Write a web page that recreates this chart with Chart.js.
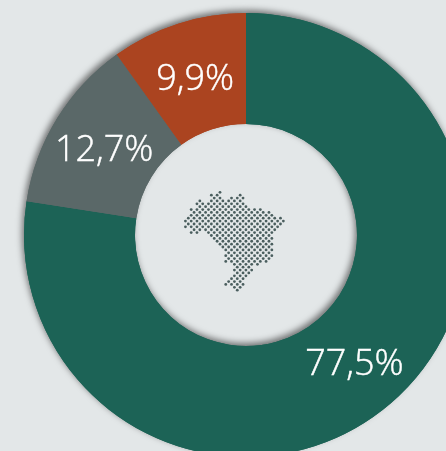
<!DOCTYPE html>
<html><head><meta charset="utf-8">
<script src="https://cdn.jsdelivr.net/npm/chart.js@4"></script>
<style>html,body{margin:0;padding:0;background:#e3e7e8;overflow:hidden}
#w{position:absolute;left:0;top:0;width:446px;height:451px;overflow:hidden}</style></head>
<body><div id="w"><canvas id="c" width="492" height="470"></canvas></div>
<script>
const categories = ['A', 'B', 'C'];
const values = [77.5, 12.7, 9.9];
const valueLabels = ['77,5%', '12,7%', '9,9%'];
const colors = ['#1c6356', '#5a6868', '#ab4420'];
// Brazil dot map: per row, inclusive spans on a diagonal lattice
const mapSpans = [[[0,0]],[[-3,-1],[7,7]],[[-2,0],[4,4],[6,6],[8,8]],[[-7,-7],[-3,1],[3,7]],[[-8,-6],[-4,8]],[[-7,9]],[[-10,12],[14,14]],[[-9,17]],[[-10,18]],[[-11,21]],[[-12,22]],[[-11,21]],[[-12,20]],[[-9,19]],[[-10,-8],[-4,18]],[[-3,17]],[[-2,18]],[[-1,17]],[[0,18]],[[1,17]],[[2,18]],[[3,17]],[[2,18]],[[3,17]],[[2,16]],[[5,13]],[[6,10]],[[5,11]],[[6,10]],[[5,9]],[[4,8]],[[3,7]],[[2,8]],[[5,7]],[[6,6]]];

const ringShadow = {id:'ringShadow', beforeDatasetsDraw(chart){
  const ctx = chart.ctx;
  ctx.save();
  ctx.shadowColor = 'rgba(0,0,0,0.5)';
  ctx.shadowBlur = 6;
  ctx.shadowOffsetX = -2;
  ctx.shadowOffsetY = -3;
  chart.getDatasetMeta(0).data.forEach(a => a.draw(ctx));
  ctx.restore();
}};
const overlay = {id:'overlay', afterDatasetsDraw(chart){
  const ctx = chart.ctx, arcs = chart.getDatasetMeta(0).data;
  ctx.save();
  ctx.fillStyle = '#ffffff';
  ctx.strokeStyle = '#ffffff';
  ctx.lineWidth = 0.45;
  ctx.font = '300 36px "Open Sans"';
  ctx.textAlign = 'center';
  ctx.textBaseline = 'middle';
  arcs.forEach((a,i) => {
    const p = a.getCenterPoint();
    ctx.fillText(valueLabels[i], p.x, p.y + 3);
    ctx.strokeText(valueLabels[i], p.x, p.y + 3);
  });
  const cx = arcs[0].x, cy = arcs[0].y;
  ctx.fillStyle = '#4a5e5e';
  mapSpans.forEach((spans,j) => spans.forEach(([s,e]) => {
    for (let k = s; k <= e; k += 2) {
      ctx.beginPath();
      ctx.arc(cx - 26 + 2.88*k, cy - 42.7 + 2.88*j, 1.4, 0, Math.PI*2);
      ctx.fill();
    }
  }));
  ctx.restore();
}};
new Chart(document.getElementById('c'), {
  type: 'doughnut',
  data: {labels: categories, datasets: [{data: values, backgroundColor: colors, borderWidth: 0, hoverOffset: 0}]},
  options: {
    responsive: false, animation: false, cutout: '50%',
    layout: {padding: {left: 24, top: 13, right: 24, bottom: 13}},
    plugins: {legend: {display: false}, tooltip: {enabled: false}}
  },
  plugins: [ringShadow, overlay]
});
</script></body></html>
